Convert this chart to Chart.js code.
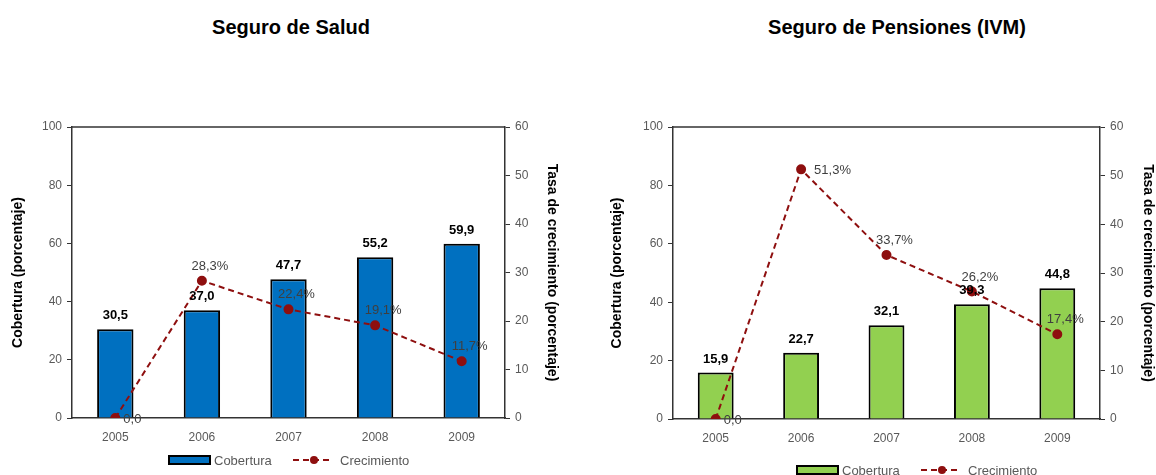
<!DOCTYPE html>
<html>
<head>
<meta charset="utf-8">
<script src="https://cdn.jsdelivr.net/npm/chart.js@4.4.1/dist/chart.umd.min.js"></script>
<style>
  body { margin: 0; background: #fff; width: 1156px; height: 475px; overflow: hidden; position: relative; font-family: "Liberation Sans", Arial, sans-serif; }
  .titulo { position: absolute; top: 16px; font-size: 20px; font-weight: bold; color: #000; text-align: center; }
  .box { position: absolute; top: 0; height: 475px; }
</style>
</head>
<body>
<div class="titulo" style="left:141px; width:300px;">Seguro de Salud</div>
<div class="titulo" style="left:747px; width:300px;">Seguro de Pensiones (IVM)</div>
<div class="box" style="left:0; width:580px;"><canvas id="salud"></canvas></div>
<div class="box" style="left:580px; width:576px;"><canvas id="pensiones"></canvas></div>
<script>
const years = ['2005', '2006', '2007', '2008', '2009'];
const saludCobertura = [30.5, 37.0, 47.7, 55.2, 59.9];
const saludCrecimiento = [0.0, 28.3, 22.4, 19.1, 11.7];
const pensionesCobertura = [15.9, 22.7, 32.1, 39.3, 44.8];
const pensionesCrecimiento = [0.0, 51.3, 33.7, 26.2, 17.4];

const grisTexto = '#595959';
const grisEtiqueta = '#3f3f3f';
const ejeColor = '#333333';
const rojo = '#8E0F0F';

function coma(v) {
    return v.toFixed(1).replace('.', ',');
}

// etiquetas, borde del area y leyenda
const extras = {
    id: 'extras',
    afterDatasetsDraw(chart, args, opts) {
        const c = chart.ctx;
        const a = chart.chartArea;
        c.save();
        c.strokeStyle = ejeColor;
        c.lineWidth = 1.5;
        c.beginPath();
        c.moveTo(a.left, a.top);
        c.lineTo(a.right, a.top);
        c.stroke();

        // valores de las barras
        const bars = chart.getDatasetMeta(1);
        c.font = 'bold 13px "Liberation Sans", Arial';
        c.fillStyle = '#000';
        c.textAlign = 'center';
        c.textBaseline = 'bottom';
        bars.data.forEach((el, i) => {
            c.fillText(coma(chart.data.datasets[1].data[i]), el.x, el.y - 7);
        });

        // valores de la linea
        const line = chart.getDatasetMeta(0);
        const vals = chart.data.datasets[0].data;
        c.font = '13px "Liberation Sans", Arial';
        c.fillStyle = grisEtiqueta;
        line.data.forEach((el, i) => {
            const v = vals[i];
            const pico = v > (vals[i - 1] ?? -1) && v > (vals[i + 1] ?? -1);
            if (v === 0) {
                c.textAlign = 'left';
                c.textBaseline = 'middle';
                c.fillText(coma(v), el.x + 8, el.y + 1);
            } else if (pico && el.y - a.top < 60) {
                // cerca del borde superior: a la derecha
                c.textAlign = 'left';
                c.textBaseline = 'middle';
                c.fillText(coma(v) + '%', el.x + 13, el.y + 1);
            } else {
                c.textAlign = 'center';
                c.textBaseline = 'bottom';
                c.fillText(coma(v) + '%', el.x + 8, el.y - 8);
            }
        });
        c.restore();
    },
    afterDraw(chart, args, opts) {
        const c = chart.ctx;
        const x = opts.x, y = opts.y;
        c.save();
        c.fillStyle = chart.data.datasets[1].backgroundColor;
        c.fillRect(x, y - 4, 41, 8);
        c.strokeStyle = '#000';
        c.lineWidth = 2;
        c.strokeRect(x, y - 4, 41, 8);
        c.font = '13px "Liberation Sans", Arial';
        c.fillStyle = grisTexto;
        c.textAlign = 'left';
        c.textBaseline = 'middle';
        c.fillText('Cobertura', x + 45, y + 1);
        c.strokeStyle = rojo;
        c.setLineDash([6, 4]);
        c.beginPath();
        c.moveTo(x + 124, y);
        c.lineTo(x + 164, y);
        c.stroke();
        c.setLineDash([]);
        c.fillStyle = rojo;
        c.beginPath();
        c.arc(x + 145, y, 4, 0, Math.PI * 2);
        c.fill();
        c.fillStyle = grisTexto;
        c.fillText('Crecimiento', x + 171, y + 1);
        c.restore();
    }
};

function hacerGrafico(id, cobertura, crecimiento, colorBarra, cfg) {
    return new Chart(document.getElementById(id), {
        type: 'bar',
        data: {
            labels: years,
            datasets: [
                {
                    type: 'line',
                    label: 'Crecimiento',
                    data: crecimiento,
                    yAxisID: 'y1',
                    borderColor: rojo,
                    borderWidth: 2,
                    borderDash: [6, 4],
                    pointRadius: 4,
                    pointBackgroundColor: rojo,
                    pointBorderColor: rojo,
                    tension: 0,
                    order: 0
                },
                {
                    label: 'Cobertura',
                    data: cobertura,
                    yAxisID: 'y',
                    backgroundColor: colorBarra,
                    borderColor: '#000',
                    borderWidth: 2,
                    barPercentage: 0.42,
                    categoryPercentage: 1,
                    order: 1
                }
            ]
        },
        options: {
            responsive: true,
            maintainAspectRatio: false,
            animation: false,
            layout: { padding: { top: 127, left: cfg.padLeft, right: cfg.padRight, bottom: cfg.padBottom } },
            scales: {
                x: {
                    grid: { display: false, drawTicks: false },
                    border: { display: true, color: ejeColor, width: 1.5 },
                    ticks: { color: grisTexto, font: { size: 12, family: '"Liberation Sans", Arial' }, padding: 12 },
                    afterFit: (s) => { s.height = 30; }
                },
                y: {
                    position: 'left',
                    min: 0, max: 100,
                    ticks: { stepSize: 20, color: grisTexto, font: { size: 12, family: '"Liberation Sans", Arial' }, padding: 5 },
                    grid: { drawOnChartArea: false, tickLength: 5, color: ejeColor },
                    border: { display: true, color: ejeColor, width: 1.5 },
                    title: { display: true, text: 'Cobertura (porcentaje)', color: '#000', padding: 0, font: { size: 14, weight: 'bold', family: '"Liberation Sans", Arial' } },
                    afterFit: (s) => { s.width = cfg.wLeft; }
                },
                y1: {
                    position: 'right',
                    min: 0, max: 60,
                    ticks: { stepSize: 10, color: grisTexto, font: { size: 12, family: '"Liberation Sans", Arial' }, padding: 5 },
                    grid: { drawOnChartArea: false, tickLength: 5, color: ejeColor },
                    border: { display: true, color: ejeColor, width: 1.5 },
                    title: { display: true, text: 'Tasa de crecimiento (porcentaje)', color: '#000', padding: 0, font: { size: 14, weight: 'bold', family: '"Liberation Sans", Arial' } },
                    afterFit: (s) => { s.width = cfg.wRight; }
                }
            },
            plugins: {
                legend: { display: false },
                tooltip: { enabled: false },
                extras: { x: cfg.legendX, y: cfg.legendY }
            }
        },
        plugins: [extras]
    });
}

hacerGrafico('salud', saludCobertura, saludCrecimiento, '#0070C0',
    { padLeft: 10, padRight: 20, padBottom: 27, wLeft: 62, wRight: 55, legendX: 169, legendY: 460 });
hacerGrafico('pensiones', pensionesCobertura, pensionesCrecimiento, '#92D050',
    { padLeft: 29, padRight: 0, padBottom: 26, wLeft: 64, wRight: 56, legendX: 217, legendY: 470 });
</script>
</body>
</html>
